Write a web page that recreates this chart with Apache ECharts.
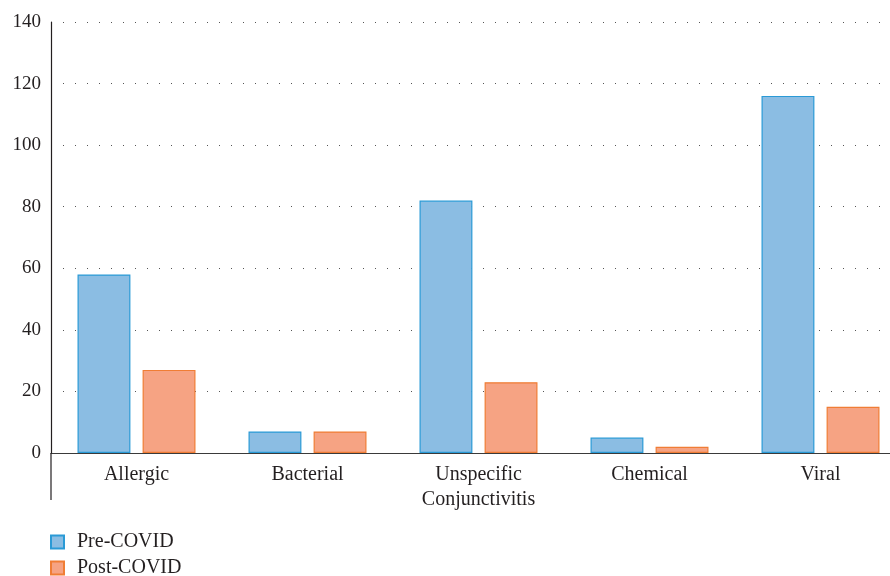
<!DOCTYPE html>
<html>
<head>
<meta charset="utf-8">
<script src="https://cdn.jsdelivr.net/npm/echarts@6/dist/echarts.min.js"></script>
<style>
html,body{margin:0;padding:0;background:#fff;overflow:hidden;width:890px;height:576px;}
#chart{width:906px;height:576px;}
</style>
</head>
<body>
<div id="chart"></div>
<script>
var categories = ['Allergic', 'Bacterial', 'Unspecific\nConjunctivitis', 'Chemical', 'Viral'];
var preCovid = [58, 7, 82, 5, 116];
var postCovid = [27, 7, 23, 2, 15];
var seriesNames = ['Pre-COVID', 'Post-COVID'];

var FONT = '"Liberation Serif", "DejaVu Serif", serif';
var chart = echarts.init(document.getElementById('chart'));
var option = {
  animation: false,
  textStyle: { fontFamily: FONT },
  grid: { left: 51, right: 0, top: 22, bottom: 123, containLabel: false },
  legend: {
    orient: 'vertical',
    left: 50,
    top: 532,
    height: 60,
    padding: 0,
    itemWidth: 13,
    itemHeight: 13,
    itemGap: 6,
    icon: 'rect',
    textStyle: { fontFamily: FONT, fontSize: 20, color: '#231f20', padding: [0, 0, 0, 8], lineHeight: 20 },
    data: seriesNames
  },
  xAxis: {
    type: 'category',
    data: categories,
    axisLine: { lineStyle: { color: '#3a3a3a', width: 1.2 } },
    axisTick: { show: false },
    axisLabel: { fontFamily: FONT, fontSize: 20, color: '#231f20', margin: 9, lineHeight: 25 }
  },
  yAxis: {
    type: 'value',
    min: 0,
    max: 140,
    interval: 20,
    axisLine: { show: true, lineStyle: { color: '#231f20', width: 1.2 } },
    axisTick: { show: false },
    axisLabel: { fontFamily: FONT, fontSize: 19, color: '#231f20', margin: 10 },
    splitLine: { show: true, lineStyle: { color: '#555', width: 1, type: [1, 11] } }
  },
  series: [
    {
      name: seriesNames[0],
      type: 'bar',
      data: preCovid,
      barGap: '23%',
      barCategoryGap: '31%',
      itemStyle: { color: '#8bbde3', borderColor: '#2a9ad6', borderWidth: 1.2 }
    },
    {
      name: seriesNames[1],
      type: 'bar',
      data: postCovid,
      itemStyle: { color: '#f6a383', borderColor: '#f07d35', borderWidth: 1.2 }
    }
  ]
};
chart.setOption(option);
var p0 = chart.convertToPixel({ gridIndex: 0 }, [0, 0]);
var x0 = chart.getModel().getComponent('grid').coordinateSystem.getRect().x;
chart.setOption({
  graphic: [{
    type: 'line',
    shape: { x1: x0, y1: p0[1], x2: x0, y2: p0[1] + 47 },
    style: { stroke: '#231f20', lineWidth: 1.2 },
    z: 10
  }]
});
</script>
</body>
</html>
